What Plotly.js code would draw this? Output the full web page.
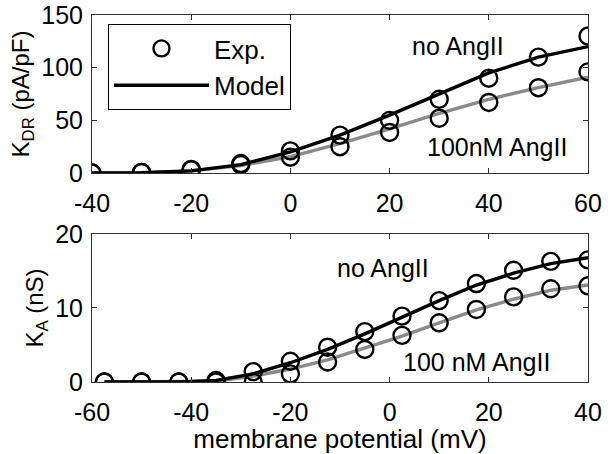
<!DOCTYPE html>
<html><head><meta charset="utf-8">
<script src="https://cdn.plot.ly/plotly-3.0.1.min.js"></script>
<style>body{margin:0;background:#fff}#g{width:608px;height:454px}</style>
</head><body><div id="g"></div>
<script>
// Top panel: K_DR (pA/pF)
const vDR = [-40,-30,-20,-10,0,10,20,30,40,50,60];
const expDR_ctrl = [0,0.6,3.5,9,21,36,50,70,90,110,130];
const expDR_ang  = [0,0.5,3,8,15,25,38.5,52,67,81,96];
const modDR_ctrl = [0,0.3,2,8,20,36,55,75,95,110,120];
const modDR_ang  = [0,0.3,2,7,15.5,28,42,56.5,70,81,91];
const ticksDR_x = [-40,-20,0,20,40,60];
const ticksDR_y = [0,50,100,150];
// Bottom panel: K_A (nS)
const vA = [-57.5,-50,-42.5,-35,-27.5,-20,-12.5,-5,2.5,10,17.5,25,32.5,40];
const expA_ctrl = [0,0,0,0.2,1.4,2.8,4.7,6.8,8.9,11.0,13.3,15.1,16.3,16.5];
const expA_ang  = [0,0,0,0,0,1.1,2.7,4.4,6.3,8.0,9.8,11.5,12.6,13.0];
const modA_ctrl = [0,0,0,0.2,1.1,2.6,4.4,6.5,8.8,11,13.1,14.7,16,16.8];
const modA_ang  = [0,0,0,0.1,0.8,1.75,3,4.6,6.2,8.0,9.75,11.2,12.4,13.1];
const ticksA_x = [-60,-40,-20,0,20,40];
const ticksA_y = [0,10,20];

const F = 'Liberation Sans, Arial, sans-serif';
const FS = 25;
const mk = {symbol:'circle-open', size:17, color:'#000', line:{width:2.4,color:'#000'}};
const black = {color:'#000', width:3.4};
const grey = {color:'#8a8a8a', width:3.4};
const lbl = a => a.map(v => String(v)); // hyphen minus like the reference

const traces = [
  {x:vDR,y:modDR_ang,mode:'lines',line:grey,xaxis:'x',yaxis:'y',showlegend:false},
  {x:vDR,y:modDR_ctrl,mode:'lines',line:black,xaxis:'x',yaxis:'y',showlegend:false},
  {x:vDR,y:expDR_ctrl,mode:'markers',marker:mk,xaxis:'x',yaxis:'y',name:'Exp.',showlegend:true},
  {x:vDR,y:expDR_ang,mode:'markers',marker:mk,xaxis:'x',yaxis:'y',showlegend:false},
  {x:[null],y:[null],mode:'lines',line:black,xaxis:'x',yaxis:'y',name:'Model',showlegend:true},
  {x:vA,y:modA_ang,mode:'lines',line:grey,xaxis:'x2',yaxis:'y2',showlegend:false},
  {x:vA,y:modA_ctrl,mode:'lines',line:black,xaxis:'x2',yaxis:'y2',showlegend:false},
  {x:vA,y:expA_ctrl,mode:'markers',marker:mk,xaxis:'x2',yaxis:'y2',showlegend:false},
  {x:vA,y:expA_ang,mode:'markers',marker:mk,xaxis:'x2',yaxis:'y2',showlegend:false}
];

const ax = {showline:true, mirror:'ticks', linecolor:'#333', linewidth:1, ticks:'inside',
  ticklen:5, tickcolor:'#333', showgrid:false, zeroline:false, automargin:false,
  tickfont:{family:F,size:FS,color:'#000'}};
const xa = Object.assign({}, ax, {ticklabelstandoff:8});
const ya = Object.assign({}, ax, {ticklabelstandoff:3});

const layout = {
  width:608, height:454, margin:{l:0,r:0,t:0,b:0},
  paper_bgcolor:'#fff', plot_bgcolor:'#fff',
  font:{family:F,size:FS,color:'#000'},
  xaxis:Object.assign({},xa,{domain:[0.1513,0.9671],range:[-40,60],tickmode:'array',tickvals:ticksDR_x,ticktext:lbl(ticksDR_x),anchor:'y'}),
  yaxis:Object.assign({},ya,{domain:[0.6189,0.967],range:[0,150],tickmode:'array',tickvals:ticksDR_y,ticktext:lbl(ticksDR_y),anchor:'x',
    title:{text:'K<sub>DR</sub> (pA/pF)',font:{family:F,size:24},standoff:4}}),
  xaxis2:Object.assign({},xa,{domain:[0.1513,0.9671],range:[-60,40],tickmode:'array',tickvals:ticksA_x,ticktext:lbl(ticksA_x),anchor:'y2',
    title:{text:'membrane potential (mV)',font:{family:F,size:26},standoff:6}}),
  yaxis2:Object.assign({},ya,{domain:[0.1586,0.4846],range:[0,20],tickmode:'array',tickvals:ticksA_y,ticktext:lbl(ticksA_y),anchor:'x2',
    title:{text:'K<sub>A</sub> (nS)',font:{family:F,size:24},standoff:4}}),
  showlegend:true,
  legend:{x:108/608,y:1-24/454,xanchor:'left',yanchor:'top',bgcolor:'#fff',bordercolor:'#000',borderwidth:1,
    font:{family:F,size:26},itemwidth:95,tracegroupgap:0},
  annotations:[
    {text:'no AngII',x:458/608,y:1-46/454,xref:'paper',yref:'paper',xanchor:'center',yanchor:'middle',showarrow:false,font:{family:F,size:FS}},
    {text:'100nM AngII',x:497/608,y:1-147/454,xref:'paper',yref:'paper',xanchor:'center',yanchor:'middle',showarrow:false,font:{family:F,size:FS}},
    {text:'no AngII',x:383/608,y:1-268/454,xref:'paper',yref:'paper',xanchor:'center',yanchor:'middle',showarrow:false,font:{family:F,size:FS}},
    {text:'100 nM AngII',x:476/608,y:1-362/454,xref:'paper',yref:'paper',xanchor:'center',yanchor:'middle',showarrow:false,font:{family:F,size:FS}}
  ]
};
Plotly.newPlot('g', traces, layout, {displayModeBar:false, staticPlot:true});
</script></body></html>
